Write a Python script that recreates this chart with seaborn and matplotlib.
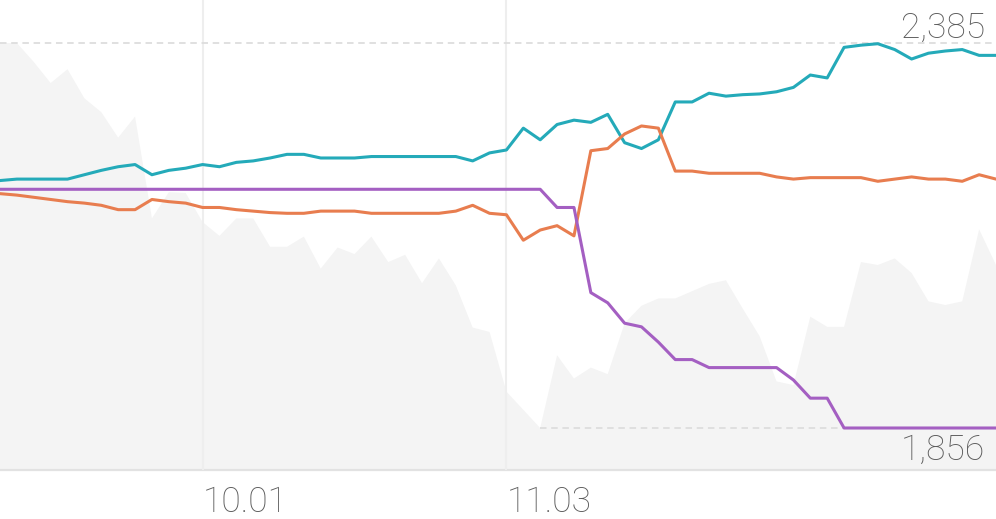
import numpy as np
import pandas as pd
import matplotlib
matplotlib.use('Agg')
import matplotlib.pyplot as plt
import seaborn as sns

# values (one point per trading day)
background = [2385, 2385, 2359, 2330, 2349, 2309, 2290, 2255, 2284, 2144,
              2180, 2179, 2139, 2120, 2144, 2144, 2105, 2105, 2119, 2075,
              2104, 2095, 2119, 2084, 2094, 2055, 2089, 2052, 1994, 1988,
              1906, 1881, 1856, 1956, 1924, 1939, 1930, 2000, 2024, 2034,
              2034, 2044, 2054, 2059, 2020, 1982, 1920, 1915, 2009, 1995,
              1995, 2084, 2080, 2089, 2069, 2030, 2025, 2030, 2129, 2080]
teal = [2196, 2198, 2198, 2198, 2198, 2204, 2210, 2215, 2218, 2204,
        2210, 2213, 2218, 2215, 2221, 2223, 2227, 2232, 2232, 2227,
        2227, 2227, 2229, 2229, 2229, 2229, 2229, 2229, 2223, 2234,
        2238, 2268, 2252, 2273, 2279, 2276, 2287, 2248, 2240, 2252,
        2304, 2304, 2316, 2312, 2314, 2315, 2318, 2324, 2341, 2337,
        2379, 2382, 2384, 2376, 2363, 2371, 2374, 2376, 2368, 2368]
orange = [2178, 2176, 2173, 2170, 2167, 2165, 2162, 2156, 2156, 2170,
          2167, 2165, 2159, 2159, 2156, 2154, 2152, 2151, 2151, 2154,
          2154, 2154, 2151, 2151, 2151, 2151, 2151, 2154, 2162, 2151,
          2149, 2114, 2128, 2134, 2120, 2237, 2240, 2260, 2271, 2268,
          2209, 2209, 2206, 2206, 2206, 2206, 2201, 2198, 2200, 2200,
          2200, 2200, 2195, 2198, 2201, 2198, 2198, 2195, 2204, 2198]
purple = [2184] * 33 + [2159, 2159, 2042, 2028, 2000, 1995, 1974,
                        1950, 1950, 1939, 1939, 1939, 1939, 1939, 1922, 1897, 1897,
                        1856, 1856, 1856, 1856, 1856, 1856, 1856, 1856, 1856, 1856]
tick_pos = [12, 30]
tick_labels = ['10.01', '11.03']

days = np.arange(len(background))
df = pd.DataFrame({'day': days, 'teal': teal, 'orange': orange, 'purple': purple})
long_df = df.melt(id_vars='day', var_name='series', value_name='value')

sns.set_theme(style='white')
plt.rcParams['font.family'] = ['Roboto', 'DejaVu Sans']

fig = plt.figure(figsize=(9.96, 5.19), dpi=100)
ax = fig.add_axes([0, 49 / 519, 1, 470 / 519])

vmax, vmin = max(background), min(background)
ppu = 385 / (vmax - vmin)          # pixels per unit
ylo = vmax - 427 / ppu
yhi = vmax + 43 / ppu

ax.fill_between(days, ylo, background, color='#f4f4f4', lw=0, zorder=1)

sns.lineplot(data=long_df, x='day', y='value', hue='series',
             palette={'teal': '#24aab9', 'orange': '#e87d4f', 'purple': '#a45fc2'},
             linewidth=2.2, legend=False, ax=ax, zorder=4)

# max / min markers for the background series
imin = int(np.argmin(background))
ax.plot([0, days[-1]], [vmax, vmax], color='#dddddd', lw=1.3,
        linestyle=(0, (3.6, 2.6)), zorder=3)
ax.plot([imin, days[-1]], [vmin, vmin], color='#dddddd', lw=1.3,
        linestyle=(0, (3.6, 2.6)), zorder=3)
txt = dict(fontsize=25.5, color='#5c5c5c', fontweight='light')
ax.annotate(f'{vmax:,}', xy=(1, vmax), xycoords=('axes fraction', 'data'),
            xytext=(-8, 3.5), textcoords='offset points', ha='right', va='baseline', **txt)
ax.annotate(f'{vmin:,}', xy=(1, vmin), xycoords=('axes fraction', 'data'),
            xytext=(-8, -4), textcoords='offset points', ha='right', va='top', **txt)

ax.set_xlim(0, days[-1])
ax.set_ylim(ylo, yhi)
ax.set_xticks(tick_pos)
ax.set_xticklabels(tick_labels, ha='left', **txt)
ax.tick_params(axis='x', length=0, pad=11)
ax.set_yticks([])
ax.set_xlabel('')
ax.set_ylabel('')
ax.grid(axis='x', color='#eeeeee', lw=1.5, zorder=2)
ax.set_axisbelow(False)
for s in ['top', 'left', 'right']:
    ax.spines[s].set_visible(False)
ax.spines['bottom'].set_color('#e2e2e2')
ax.spines['bottom'].set_linewidth(1.6)

fig.savefig('out.png', dpi=100)
